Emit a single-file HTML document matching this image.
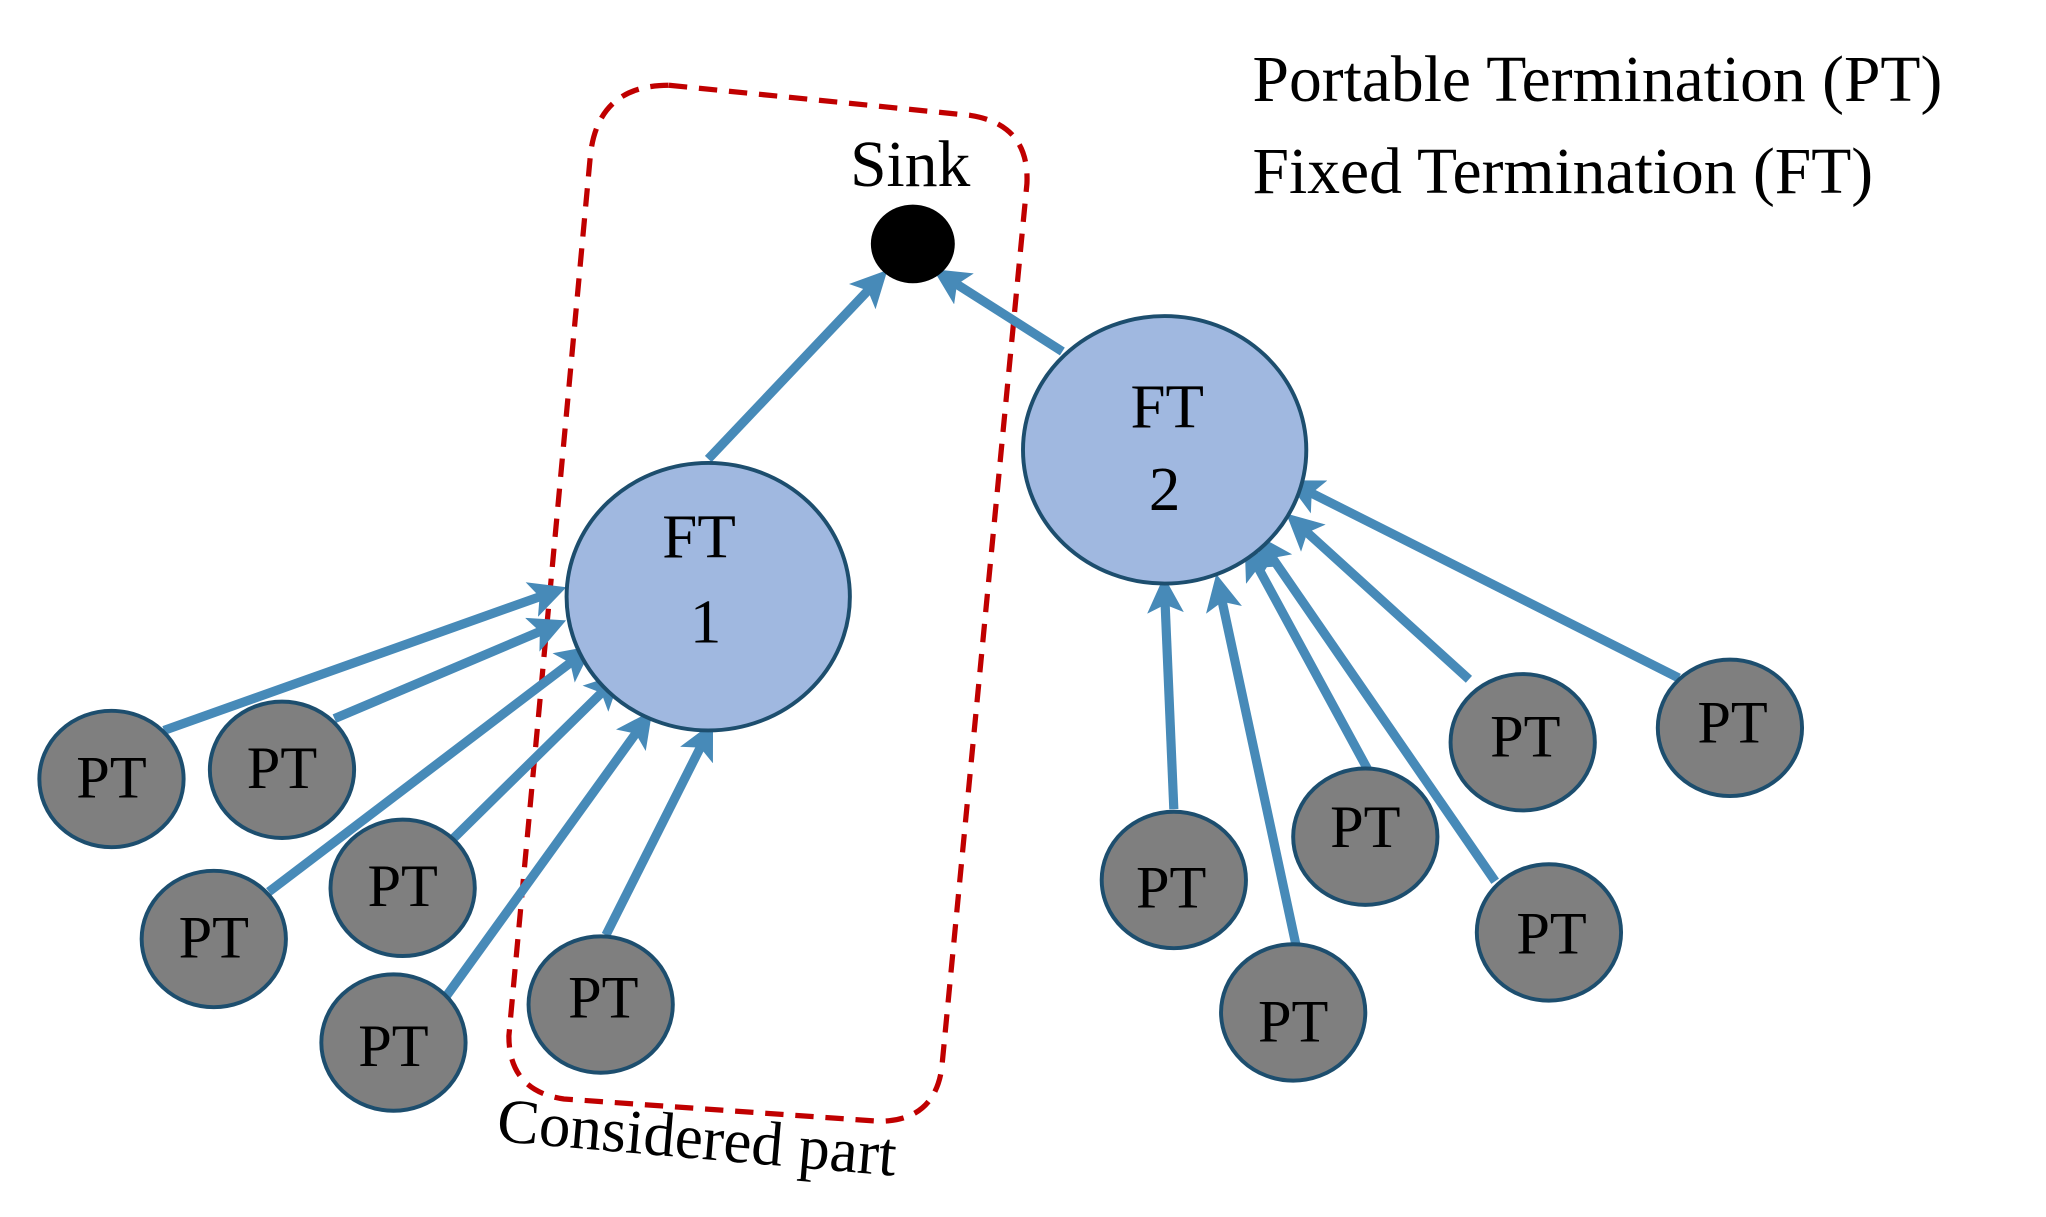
<!DOCTYPE html>
<html><head><style>
html,body{margin:0;padding:0;background:#fff;}
svg{display:block;}
text{font-family:"Liberation Serif",serif;fill:#000;}
</style></head><body>
<svg width="2046" height="1217" viewBox="0 0 1560 928" preserveAspectRatio="none" xmlns="http://www.w3.org/2000/svg">
<defs>
<marker id="a" markerWidth="4" markerHeight="4" refX="2.2" refY="2" orient="auto" markerUnits="strokeWidth">
<path d="M0,0 L4,2 L0,4 L0.9,2 Z" fill="#478ab8"/>
</marker>
</defs>
<text x="955" y="77" font-size="50">Portable Termination (PT)</text>
<text x="955" y="147" font-size="50">Fixed Termination (FT)</text>
<path d="M510 65 L740 88 Q785 95 783 140 L718 815 Q712 855 670 855 L430 838 Q388 832 388 790 L450 120 Q455 65 510 65 Z" fill="none" stroke="#c00000" stroke-width="4" stroke-dasharray="14,9"/>
<g stroke="#478ab8" stroke-width="7" fill="none" marker-end="url(#a)">
<line x1="540" y1="350" x2="668" y2="215"/>
<line x1="810" y1="268" x2="722" y2="212"/>
<line x1="125" y1="557" x2="420" y2="452"/>
<line x1="255" y1="548" x2="420" y2="478"/>
<line x1="205" y1="680" x2="442" y2="500"/>
<line x1="345" y1="640" x2="465" y2="522"/>
<line x1="340" y1="760" x2="490" y2="552"/>
<line x1="462" y1="713" x2="538" y2="562"/>
<line x1="895" y1="617" x2="888" y2="452"/>
<line x1="988" y1="720" x2="930" y2="450"/>
<line x1="1043" y1="587" x2="955" y2="425"/>
<line x1="1140" y1="672" x2="965" y2="418"/>
<line x1="1120" y1="518" x2="990" y2="400"/>
<line x1="1280" y1="517" x2="992" y2="372"/>
</g>
<ellipse cx="696" cy="186" rx="32" ry="30" fill="#000"/>
<text x="694" y="142" font-size="50" text-anchor="middle">Sink</text>
<g fill="#a0b8e0" stroke="#1d4e6e" stroke-width="3">
<ellipse cx="888" cy="343" rx="108" ry="102"/>
<ellipse cx="540" cy="455" rx="108" ry="102"/>
</g>
<g font-size="48" text-anchor="middle">
<text x="890" y="326">FT</text><text x="888" y="389">2</text>
<text x="533" y="425">FT</text><text x="538" y="490">1</text>
</g>
<g fill="#7f7f7f" stroke="#1d4e6e" stroke-width="3">
<ellipse cx="85" cy="594" rx="55" ry="52"/>
<ellipse cx="215" cy="587" rx="55" ry="52"/>
<ellipse cx="163" cy="716" rx="55" ry="52"/>
<ellipse cx="307" cy="677" rx="55" ry="52"/>
<ellipse cx="300" cy="795" rx="55" ry="52"/>
<ellipse cx="458" cy="766" rx="55" ry="52"/>
<ellipse cx="895" cy="671" rx="55" ry="52"/>
<ellipse cx="1041" cy="638" rx="55" ry="52"/>
<ellipse cx="1161" cy="566" rx="55" ry="52"/>
<ellipse cx="1319" cy="555" rx="55" ry="52"/>
<ellipse cx="1181" cy="711" rx="55" ry="52"/>
<ellipse cx="986" cy="772" rx="55" ry="52"/>
</g>
<g font-size="46" text-anchor="middle">
<text x="85" y="608">PT</text>
<text x="215" y="601">PT</text>
<text x="163" y="730">PT</text>
<text x="307" y="691">PT</text>
<text x="300" y="813">PT</text>
<text x="460" y="776">PT</text>
<text x="893" y="692">PT</text>
<text x="1041" y="646">PT</text>
<text x="1163" y="577">PT</text>
<text x="1321" y="566">PT</text>
<text x="1183" y="727">PT</text>
<text x="986" y="794">PT</text>
</g>
<text x="378" y="870" font-size="48" transform="rotate(5 378 870)">Considered part</text>
</svg>
</body></html>
